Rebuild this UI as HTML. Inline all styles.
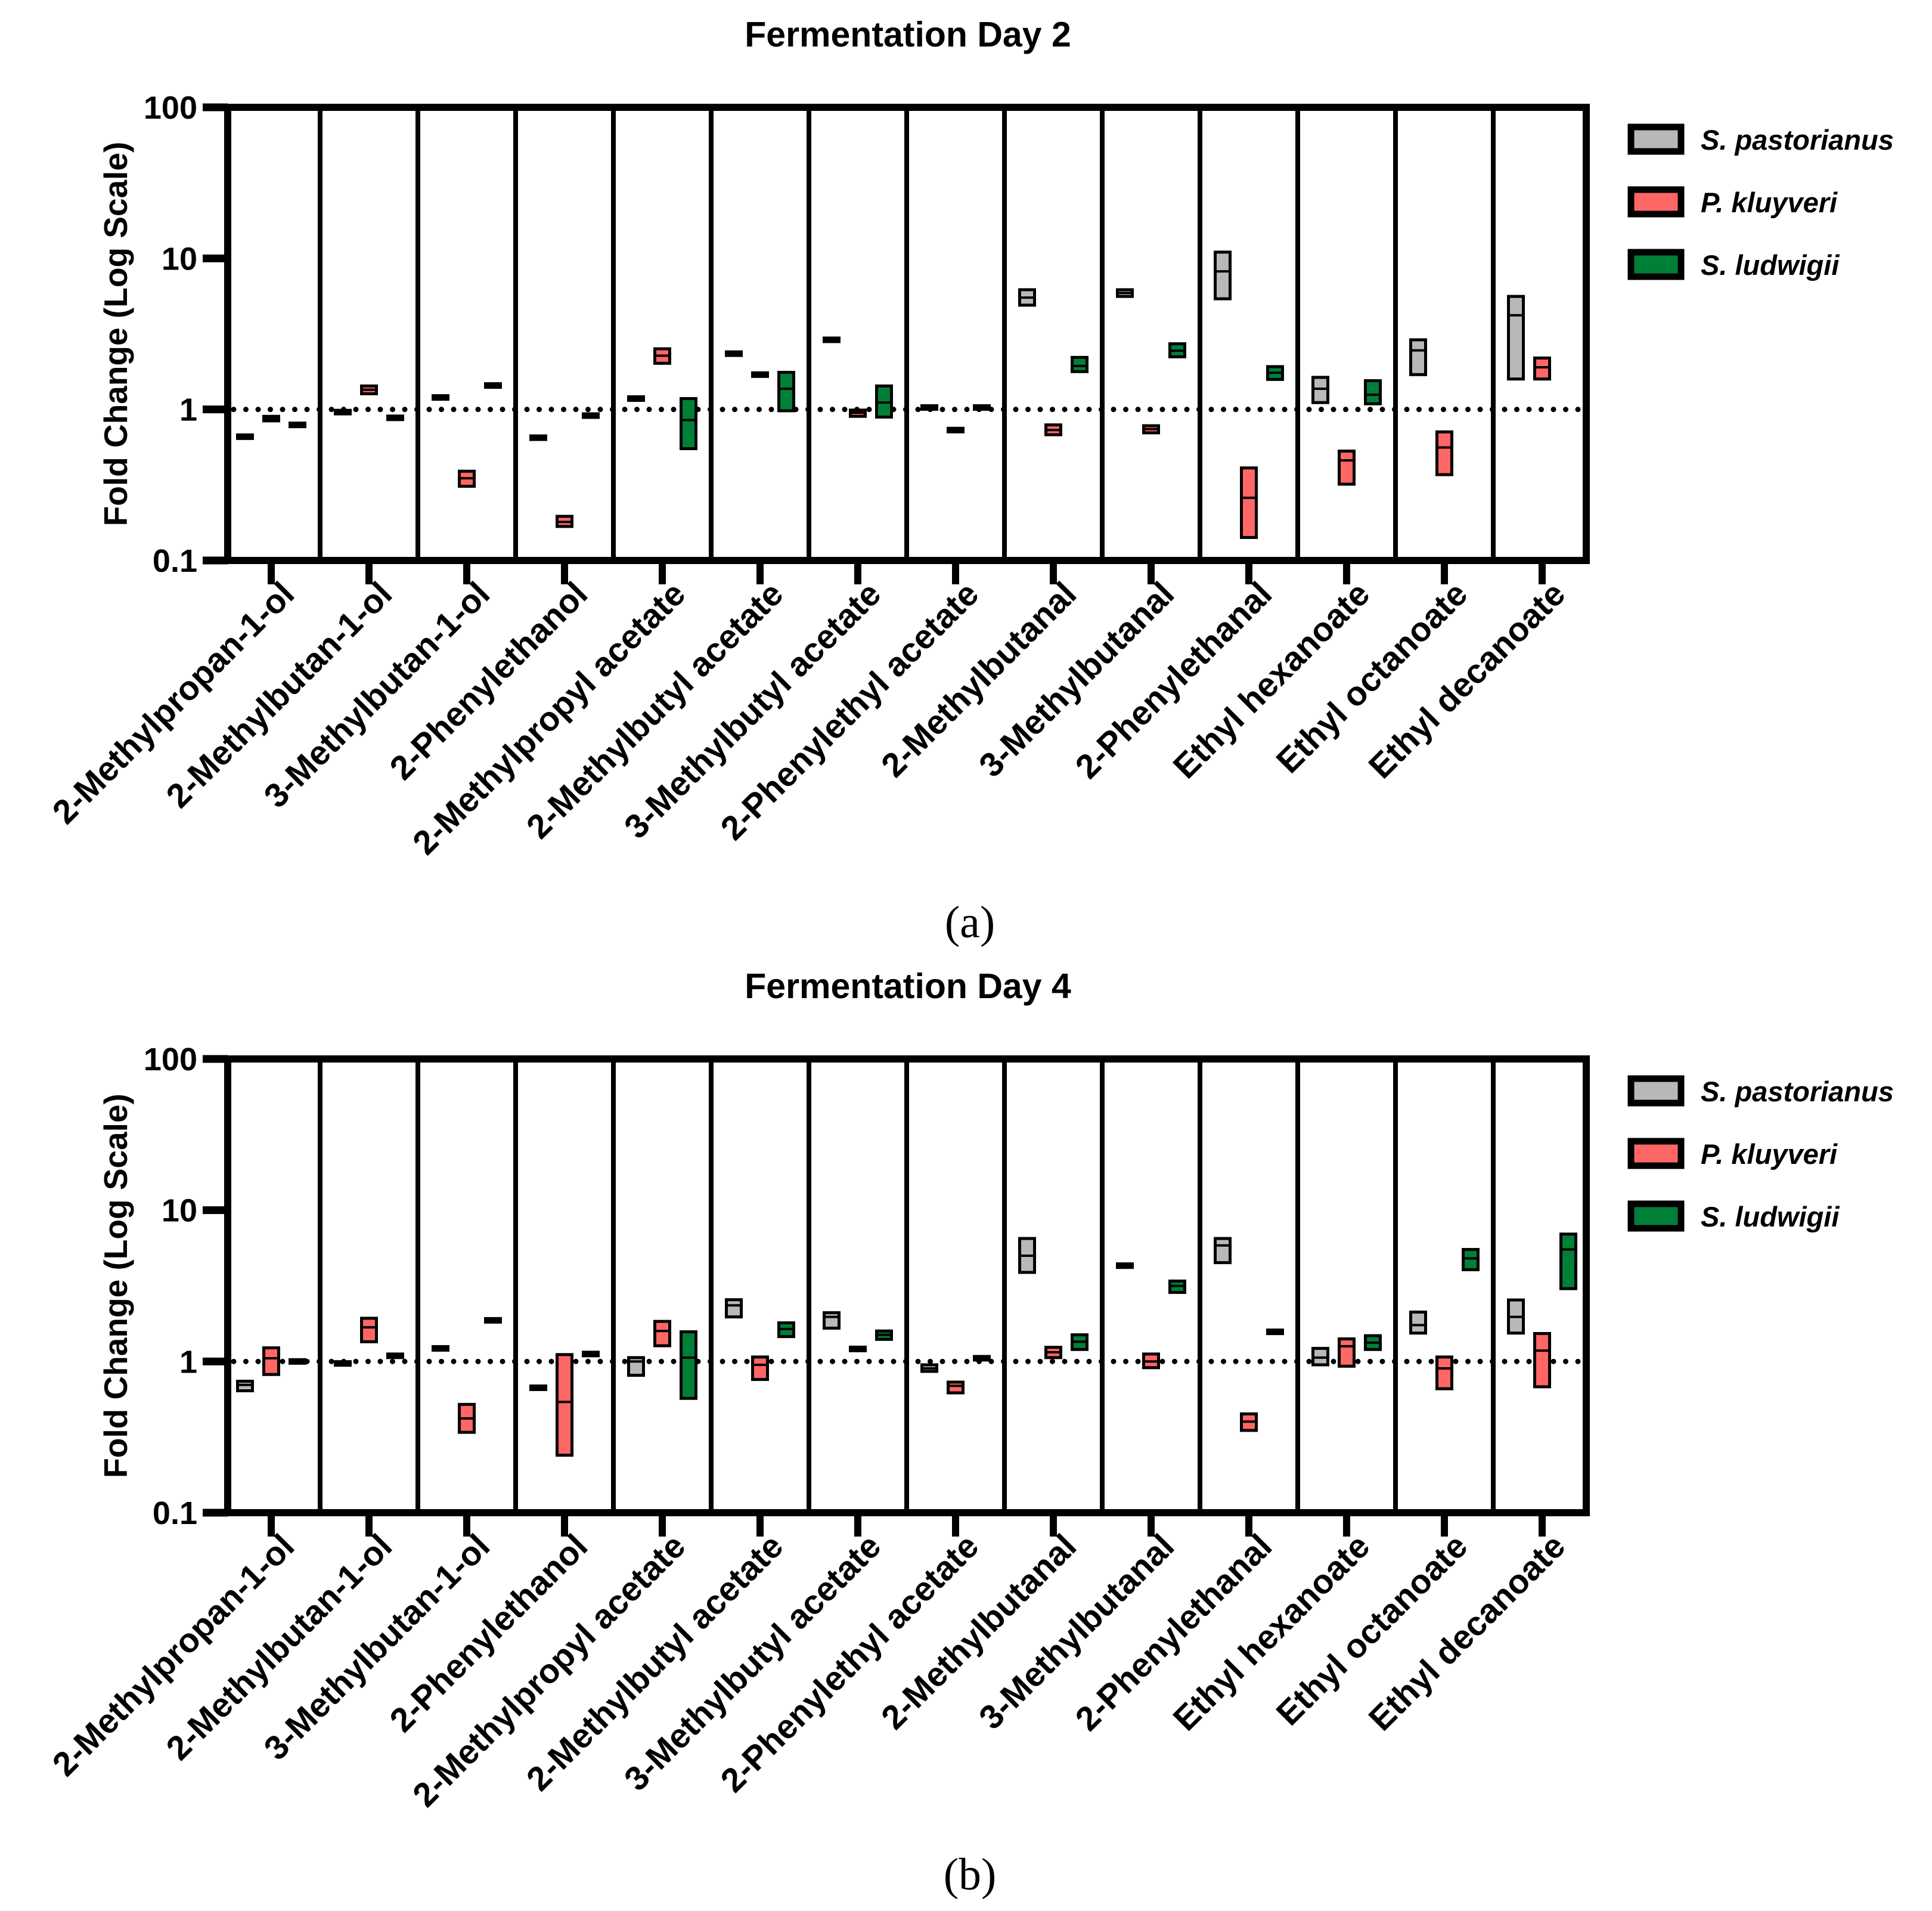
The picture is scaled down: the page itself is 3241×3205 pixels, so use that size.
<!DOCTYPE html>
<html><head><meta charset="utf-8"><style>
html,body{margin:0;padding:0;background:#fff;}
svg{display:block;font-family:"Liberation Sans",sans-serif;}
</style></head><body>
<svg id="fig" width="3241" height="3205" viewBox="0 0 3241 3205" xmlns="http://www.w3.org/2000/svg"></svg>
<script>
const categories = ["2-Methylpropan-1-ol","2-Methylbutan-1-ol","3-Methylbutan-1-ol","2-Phenylethanol","2-Methylpropyl acetate","2-Methylbutyl acetate","3-Methylbutyl acetate","2-Phenylethyl acetate","2-Methylbutanal","3-Methylbutanal","2-Phenylethanal","Ethyl hexanoate","Ethyl octanoate","Ethyl decanoate"];
const seriesNames = ["S. pastorianus","P. kluyveri","S. ludwigii"];
const yTicks = [100,10,1,0.1];
const yTickLabels = ["100","10","1","0.1"];
// Day 2: [low, mean, high]
const d2Pastorianus = [[0.65,0.66,0.67],[0.95,0.96,0.97],[1.19,1.2,1.21],[0.64,0.65,0.66],[1.17,1.18,1.19],[2.32,2.34,2.36],[2.86,2.89,2.92],[1.02,1.03,1.04],[4.9,5.5,6.2],[5.6,5.9,6.2],[5.4,8.2,11.0],[1.11,1.37,1.63],[1.70,2.46,2.89],[1.59,4.2,5.6]];
const d2Kluyveri = [[0.84,0.87,0.9],[1.27,1.35,1.43],[0.31,0.35,0.39],[0.168,0.18,0.196],[2.02,2.27,2.52],[1.69,1.70,1.71],[0.90,0.95,0.99],[0.72,0.73,0.74],[0.68,0.73,0.79],[0.70,0.74,0.78],[0.142,0.26,0.41],[0.32,0.46,0.53],[0.37,0.56,0.71],[1.59,1.9,2.19]];
const d2Ludwigii = [[0.78,0.79,0.80],[0.86,0.88,0.90],[1.43,1.44,1.45],[0.90,0.91,0.92],[0.55,0.85,1.18],[0.98,1.37,1.76],[0.89,1.11,1.43],[1.02,1.03,1.04],[1.78,1.94,2.21],[2.23,2.45,2.72],[1.58,1.75,1.92],[1.09,1.25,1.55],[null,null,null],[null,null,null]];
// Day 4
const d4Pastorianus = [[0.64,0.70,0.74],[0.96,0.97,0.98],[1.21,1.22,1.23],[0.66,0.67,0.68],[0.81,1.0,1.06],[1.97,2.35,2.56],[1.66,1.97,2.1],[0.86,0.9,0.95],[3.88,5.0,6.5],[4.2,4.3,4.4],[4.5,5.85,6.5],[0.95,1.06,1.22],[1.54,1.74,2.12],[1.54,1.97,2.55]];
const d4Kluyveri = [[0.82,1.05,1.23],[1.35,1.68,1.93],[0.34,0.42,0.52],[0.24,0.54,1.11],[1.27,1.59,1.84],[0.76,0.95,1.07],[1.19,1.21,1.23],[0.62,0.69,0.73],[1.06,1.15,1.24],[0.91,1.0,1.12],[0.35,0.40,0.45],[0.93,1.26,1.41],[0.66,0.9,1.07],[0.68,1.18,1.53]];
const d4Ludwigii = [[0.99,1.0,1.01],[1.08,1.09,1.10],[1.86,1.87,1.88],[1.11,1.12,1.13],[0.57,1.06,1.57],[1.46,1.64,1.8],[1.40,1.5,1.59],[1.04,1.05,1.06],[1.2,1.35,1.5],[2.86,3.16,3.4],[1.55,1.57,1.59],[1.2,1.33,1.48],[4.04,4.8,5.5],[3.03,5.5,6.95]];
const colors = ["#b8b8b8","#ff6666","#008037"];

const NS = "http://www.w3.org/2000/svg";
const svg = document.getElementById('fig');
function mk(tag, attrs, parent, text){
  const e = document.createElementNS(NS, tag);
  for (const k in attrs) e.setAttribute(k, attrs[k]);
  if (text !== undefined) e.textContent = text;
  (parent||svg).appendChild(e);
  return e;
}
const xLeft = 382, xRight = 2661;
function xTick(i){ return 455 + 164 * i; }
const offsets = [-44, 0, 44];
const boxW = 30;

function drawPanel(p, title, sub, data, pname){
  const g = mk('g', {});
  
  
  const top = p.top, bot = p.bot;
  const yScale = v => bot - (Math.log10(v) + 1) / 3 * (bot - top);
  const t = mk('text', {x:1523, y:top-102, 'font-size':59, 'font-weight':'bold', 'text-anchor':'middle'}, g, title);
  
  
  const yt = mk('text', {transform:`translate(213,${(top+bot)/2}) rotate(-90)`, 'font-size':55, 'font-weight':'bold', 'text-anchor':'middle'}, g, 'Fold Change (Log Scale)');
  
  
  for (let i = 0; i < categories.length - 1; i++) {
    const sx = (xTick(i) + xTick(i+1)) / 2;
    const s = mk('line', {x1:sx, x2:sx, y1:top, y2:bot, stroke:'#000', 'stroke-width':8}, g);
    
    
  }
  const ref = mk('line', {x1:xLeft+10, x2:xRight-6, y1:yScale(1), y2:yScale(1), stroke:'#000', 'stroke-width':9, 'stroke-linecap':'round', 'stroke-dasharray':'0 20.5'}, g);
  
  
  data.forEach((ser, si) => {
    ser.forEach((d, ci) => {
      if (d[0] === null) return;
      const cx = xTick(ci) + offsets[si];
      let y1 = yScale(d[2]), y2 = yScale(d[0]);
      if (y2 - y1 < 6) { const m = (y1+y2)/2; y1 = m-3; y2 = m+3; }
      const r = mk('rect', {x:cx-boxW/2+2.5, y:y1, width:boxW-5, height:y2-y1, fill:colors[si], stroke:'#000', 'stroke-width':5}, g);
      
      
      const ym = yScale(d[1]);
      const ml = mk('line', {x1:cx-boxW/2, x2:cx+boxW/2, y1:ym, y2:ym, stroke:'#000', 'stroke-width':4}, g);
      
      
    });
  });
  const frame = mk('path', {d:`M${xLeft},${bot} L${xLeft},${top} L${xRight},${top} L${xRight},${bot} Z`, fill:'none', stroke:'#000', 'stroke-width':12}, g);
  
  
  yTicks.forEach((v, i) => {
    const y = yScale(v);
    const tk = mk('line', {x1:340, x2:xLeft, y1:y, y2:y, stroke:'#000', 'stroke-width':13}, g);
    
    
    const tl = mk('text', {x:331, y:y+19, 'font-size':54, 'font-weight':'bold', 'text-anchor':'end'}, g, yTickLabels[i]);
    
    
  });
  categories.forEach((c, i) => {
    const x = xTick(i);
    const tk = mk('line', {x1:x, x2:x, y1:bot, y2:bot+40, stroke:'#000', 'stroke-width':12}, g);
    
    
    const tl = mk('text', {transform:`translate(${x+42},${bot+60}) rotate(-45)`, 'font-size':57, 'font-weight':'bold', 'text-anchor':'end'}, g, c);
    
    
  });
  seriesNames.forEach((n, i) => {
    const ly = top + 27 + i * 105;
    const lb = mk('rect', {x:2736, y:ly+6, width:84, height:41, fill:colors[i], stroke:'#000', 'stroke-width':11}, g);
    
    
    const lt = mk('text', {x:2853, y:ly+44, 'font-size':47, 'font-weight':'bold', 'font-style':'italic'}, g, n);
    
    
  });
  const st = mk('text', {x:1627, y:bot+632, 'font-size':76, 'font-family':'"Liberation Serif",serif', 'text-anchor':'middle'}, g, sub);
  
  
}
drawPanel({top:180, bot:940}, 'Fermentation Day 2', '(a)', [d2Pastorianus, d2Kluyveri, d2Ludwigii], 'panel-day-2');
drawPanel({top:1776, bot:2537}, 'Fermentation Day 4', '(b)', [d4Pastorianus, d4Kluyveri, d4Ludwigii], 'panel-day-4');
</script>
</body></html>
